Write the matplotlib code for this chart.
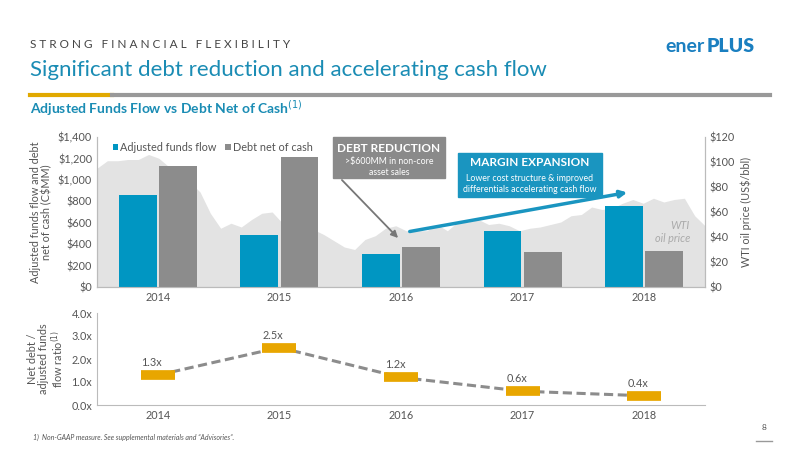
import matplotlib
matplotlib.use("Agg")
import matplotlib.pyplot as plt
import numpy as np

years = ["2014", "2015", "2016", "2017", "2018"]
aff = [860, 490, 305, 525, 755]
debt = [1130, 1210, 375, 325, 335]
ratio = [1.3, 2.5, 1.2, 0.6, 0.4]
ratio_labels = ["1.3x", "2.5x", "1.2x", "0.6x", "0.4x"]
wti = [95, 101, 101, 102, 102, 106, 103, 96, 93, 84, 76, 59,
       47, 51, 48, 54, 59, 60, 51, 43, 45, 46, 42, 37,
       32, 30, 38, 41, 47, 49, 45, 45, 45, 50, 45, 52,
       52, 54, 50, 51, 49, 45, 47, 48, 50, 52, 57, 58,
       64, 62, 63, 67, 70, 67, 71, 68, 70, 71, 57, 49]

BLUE = "#0096c2"
GREY = "#8c8c8c"
GOLD = "#e8a600"
TXT = "#555555"
FS = 7.8

plt.rcParams['font.family'] = ['Lato', 'DejaVu Sans']
fig = plt.figure(figsize=(8, 4.5), dpi=100)
W, H = 800, 450
def fx(p): return p / W
def fy(p): return 1 - p / H

# header
fig.text(fx(30), fy(45), "S T R O N G   F I N A N C I A L   F L E X I B I L I T Y", fontsize=8.5, color="#444444", va="center")
fig.text(fx(30), fy(70), "Significant debt reduction and accelerating cash flow", fontsize=16, color="#1a8cb4", va="center")
fig.text(fx(665), fy(47), "ener", fontsize=14, color="#1a7fc0", va="center", fontweight="bold")
fig.text(fx(707), fy(47), "PLUS", fontsize=14, color="#1a7fc0", va="center", fontweight="heavy")
fig.add_artist(plt.Line2D([fx(30), fx(112)], [fy(95), fy(95)], color="#e1a900", lw=3))
fig.add_artist(plt.Line2D([fx(112), fx(770)], [fy(95), fy(95)], color="#999999", lw=3))
fig.text(fx(30), fy(108), "Adjusted Funds Flow vs Debt Net of Cash$^{(1)}$", fontsize=10, color="#1a8cb4", va="center", fontweight="bold")

# top chart
ax = fig.add_axes([fx(97), fy(287), fx(705) - fx(97), fy(137) - fy(287)])
ax2 = ax.twinx()
xm = np.linspace(-0.5, 4.5, len(wti))
ax2.fill_between(xm, wti, color="#e3e3e3", lw=0)
ax2.set_ylim(0, 120)
ax2.set_yticks(range(0, 121, 20))
ax2.set_yticklabels([f"${v}" for v in range(0, 121, 20)], fontsize=FS, color=TXT)
ax2.set_ylabel("WTI oil price (US$/bbl)", fontsize=FS, color=TXT)
ax.set_zorder(ax2.get_zorder() + 1)
ax.patch.set_visible(False)
x = np.arange(len(years))
w = 0.31
ax.bar(x - 0.165, aff, w, color=BLUE, label="Adjusted funds flow")
ax.bar(x + 0.165, debt, w, color=GREY, label="Debt net of cash")
ax.set_xlim(-0.5, 4.5)
ax.set_ylim(0, 1400)
ax.set_yticks(range(0, 1401, 200))
ax.set_yticklabels([f"${v:,}" for v in range(0, 1401, 200)], fontsize=FS, color=TXT)
ax.set_xticks(x)
ax.set_xticklabels(years, fontsize=FS, color=TXT)
ax.set_ylabel("Adjusted funds flow and debt\nnet of cash (C$MM)", fontsize=FS, color=TXT, linespacing=1.0)
for a in (ax, ax2):
    a.tick_params(length=0)
    a.spines['top'].set_visible(False)
    for s in ('left', 'right', 'bottom'):
        a.spines[s].set_color("#bbbbbb")
ax.legend(loc="upper left", bbox_to_anchor=(0.01, 1.03), ncol=2, frameon=False, fontsize=FS,
          handlelength=0.5, handleheight=0.5, handletextpad=0.2, columnspacing=0.8, labelcolor=TXT)
fig.text(fx(690), fy(232), "WTI\noil price", fontsize=FS, color="#aaaaaa", style="italic", ha="right", va="center")

# annotations
fig.patches.append(plt.Rectangle((fx(333), fy(178)), fx(445) - fx(333), fy(137) - fy(178),
                                 transform=fig.transFigure, color="#8a8a8a", zorder=5))
fig.text(fx(389), fy(148), "DEBT REDUCTION", fontsize=8.5, color="white", fontweight="bold", ha="center", va="center", zorder=6)
fig.text(fx(389), fy(167), ">$600MM in non-core\nasset sales", fontsize=6.3, color="white", ha="center", va="center", zorder=6, linespacing=1.4)
fig.patches.append(plt.Rectangle((fx(458), fy(197)), fx(602) - fx(458), fy(153) - fy(197),
                                 transform=fig.transFigure, color="#1a95c0", zorder=5))
fig.text(fx(530), fy(163), "MARGIN EXPANSION", fontsize=8.5, color="white", fontweight="bold", ha="center", va="center", zorder=6)
fig.text(fx(530), fy(184), "Lower cost structure & improved\ndifferentials accelerating cash flow", fontsize=6.3, color="white", ha="center", va="center", zorder=6, linespacing=1.4)
fig.add_artist(matplotlib.patches.FancyArrowPatch((fx(340), fy(178)), (fx(400), fy(240)), transform=fig.transFigure,
               arrowstyle="-|>", mutation_scale=10, color="#777777", lw=1.3, zorder=6))
fig.add_artist(matplotlib.patches.FancyArrowPatch((fx(407), fy(232)), (fx(630), fy(192)), transform=fig.transFigure,
               arrowstyle="-|>", mutation_scale=10, color="#1a95c0", lw=2.5, zorder=6))

# bottom chart
bx = fig.add_axes([fx(97), fy(405), fx(705) - fx(97), fy(313) - fy(405)])
bx.plot(x, ratio, ls=(0, (3, 1.5)), color=GREY, lw=2.2, zorder=2)
bx.plot(x, ratio, ls="none", marker="_", ms=25, mew=7, color=GOLD, zorder=3)
for xi, r, lab in zip(x, ratio, ratio_labels):
    bx.text(xi - 0.05, r + 0.3, lab, fontsize=FS, color=TXT, ha="center", va="bottom")
bx.set_xlim(-0.5, 4.5)
bx.set_ylim(0, 4)
bx.set_yticks([0, 1, 2, 3, 4])
bx.set_yticklabels(["0.0x", "1.0x", "2.0x", "3.0x", "4.0x"], fontsize=FS, color=TXT)
bx.set_xticks(x)
bx.set_xticklabels(years, fontsize=FS, color=TXT)
bx.tick_params(length=0)
for s in ('top', 'right'):
    bx.spines[s].set_visible(False)
for s in ('left', 'bottom'):
    bx.spines[s].set_color("#bbbbbb")
bx.set_ylabel("Net debt /\nadjusted funds\nflow ratio$^{(1)}$", fontsize=FS, color=TXT, linespacing=1.0)

fig.text(fx(33), fy(437), "1)  Non-GAAP measure. See supplemental materials and \u201cAdvisories\u201d.", fontsize=5, color=TXT, style="italic", va="center")
fig.text(fx(764), fy(428), "8", fontsize=6, color=TXT, ha="center", va="center")
fig.add_artist(plt.Line2D([fx(756), fx(772)], [fy(441), fy(441)], color="#999999", lw=1))

fig.savefig("out.png", dpi=100)
